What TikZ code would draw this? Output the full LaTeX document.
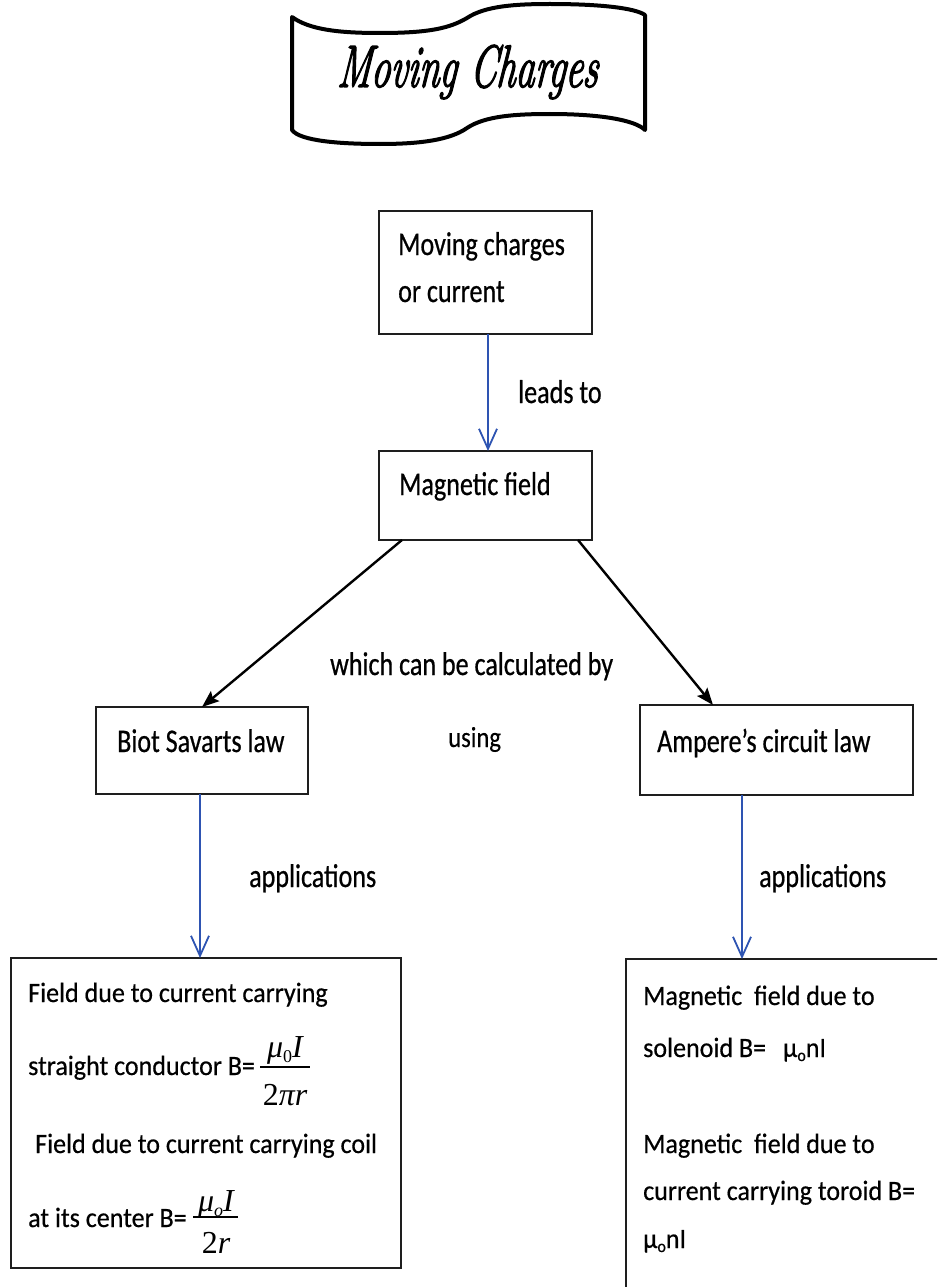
\documentclass[tikz,border=0pt]{standalone}
\usepackage{fontspec}
\usepackage{graphicx}
\usetikzlibrary{arrows.meta}
\setmainfont{Carlito}
\newfontfamily\upf[FakeStretch=0.79,FakeBold=0.6]{Carlito}
\newfontfamily\usf[FakeStretch=0.85,FakeBold=0.3]{Carlito}
\newfontfamily\lowf[FakeStretch=0.93,FakeBold=0.5]{Carlito}
\newfontfamily\tms{Liberation Serif}
\newfontfamily\ttlf[FakeSlant=0.15,FakeBold=2.5]{Latin Modern Roman}
\definecolor{arrblue}{RGB}{46,84,178}
\definecolor{boxline}{RGB}{30,30,30}
\tikzset{
  box/.style={draw=boxline, line width=1.6pt, inner sep=0pt, outer sep=0pt, rectangle},
  uptxt/.style={anchor=base west, inner sep=0pt, font={\upf\fontsize{33}{40}\selectfont}},
  lowtxt/.style={anchor=base west, inner sep=0pt, font={\lowf\fontsize{28}{34}\selectfont}},
  mtxt/.style={anchor=base, inner sep=0pt, font={\tms\fontsize{32}{36}\selectfont}},
  bluearr/.style={draw=arrblue, line width=1.8pt, -{Straight Barb[length=20pt,width=18pt]}},
  blackarr/.style={draw=black, line width=2.4pt, -{Stealth[length=17pt,width=13pt,inset=3pt]}},
  fracbar/.style={line width=1.1pt},
}
\begin{document}
\begin{tikzpicture}[x=1pt,y=-1pt]
\useasboundingbox (0,0) rectangle (937,1287);
\clip (0,0) rectangle (937,1287);
\fill[white] (0,0) rectangle (937,1287);

% banner
\draw[line width=4pt, line join=round] (292,17) .. controls (310,30) and (340,33) .. (380,33)
  .. controls (430,33) and (450,28) .. (467,18) .. controls (485,6) and (515,4) .. (550,4)
  .. controls (600,4) and (635,8) .. (645,15) -- (645,130)
  .. controls (635,120) and (600,114) .. (550,114) .. controls (515,114) and (485,116) .. (467,128)
  .. controls (450,140) and (420,144) .. (380,144) .. controls (340,144) and (300,141) .. (292,130) -- cycle;
\node[inner sep=0pt] (title) at (467,72) {\resizebox{260pt}{42pt}{\ttlf\itshape Moving Charges}};

% top boxes
\node[box, minimum width=213pt, minimum height=123pt] (mc) at (485.5,272.5) {};
\node[uptxt] (mct1) at (398,255) {Moving charges};
\node[uptxt] (mct2) at (398,302) {or current};

\node[box, minimum width=213pt, minimum height=89pt] (mf) at (485.5,495.5) {};
\node[uptxt] (mft) at (399,495) {Magnetic field};

\node[uptxt] (lt) at (518,403) {leads to};
\draw[bluearr] ([xshift=2.5pt]mc.south) -- ([xshift=2.5pt]mf.north);

\node[uptxt] (wc) at (330,675) {which can be calculated by};
\node[anchor=base west, inner sep=0pt, font={\usf\fontsize{29}{34}\selectfont}] (us) at (448,747) {using};

% law boxes
\node[box, minimum width=212pt, minimum height=87pt] (bs) at (202,750.5) {};
\node[uptxt] (bst) at (117,752) {Biot Savarts law};
\node[box, minimum width=273pt, minimum height=90pt] (ac) at (776.5,750) {};
\node[uptxt] (act) at (657,752) {Ampere’s circuit law};

\draw[blackarr] ([xshift=23pt]mf.south west) -- (bs.north);
\draw[blackarr] ([xshift=-14pt]mf.south east) -- ([xshift=-63.5pt]ac.north);

% application boxes
\node[box, minimum width=390pt, minimum height=310pt] (bl) at (206,1113) {};
\node[box, minimum width=334pt, minimum height=341pt] (br) at (793,1129.5) {};

\draw[bluearr] ([xshift=-2pt]bs.south) -- ([xshift=-2pt]bs.south |- bl.north);
\draw[bluearr] ([xshift=-34.5pt]ac.south) -- ([xshift=-34.5pt]ac.south |- br.north);
\node[uptxt] (ap1) at (249,887) {applications};
\node[uptxt] (ap2) at (759,887) {applications};

% left box text
\node[lowtxt] (l1) at (28,1002) {Field due to current carrying};
\node[lowtxt] (l2) at (28,1075) {straight conductor B=};
\node[mtxt] (f1n) at (285,1057) {\itshape μ\raisebox{-5pt}{\upshape\fontsize{18}{18}\selectfont 0}I};
\draw[fracbar] (260,1067) -- (310,1067);
\node[mtxt] (f1d) at (285,1105) {2\itshape πr};
\node[lowtxt] (l3) at (35,1153) {Field due to current carrying coil};
\node[lowtxt] (l4) at (28,1227) {at its center B=};
\node[mtxt] (f2n) at (216,1211) {\itshape μ\raisebox{-5pt}{\fontsize{18}{18}\selectfont o}I};
\draw[fracbar] (193,1217) -- (238,1217);
\node[mtxt] (f2d) at (216,1253) {2\itshape r};

% right box text
\node[lowtxt] (r1) at (643,1005) {Magnetic\ \ field due to};
\node[lowtxt] (r2) at (643,1057) {solenoid B=\hspace{17pt}μ\raisebox{-4pt}{\fontsize{17}{17}\selectfont o}nI};
\node[lowtxt] (r3) at (643,1153) {Magnetic\ \ field due to};
\node[lowtxt] (r4) at (643,1200) {current carrying toroid B=};
\node[lowtxt] (r5) at (643,1248) {μ\raisebox{-4pt}{\fontsize{17}{17}\selectfont o}nI};
\end{tikzpicture}
\end{document}
